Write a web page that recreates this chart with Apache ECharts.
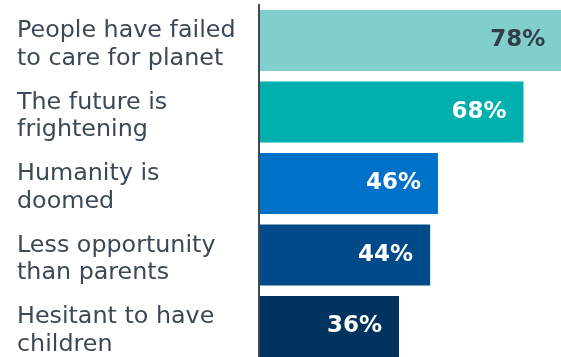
<!DOCTYPE html>
<html>
<head>
<meta charset="utf-8">
<script src="https://cdn.jsdelivr.net/npm/echarts@6/dist/echarts.min.js"></script>
<style>
  html, body { margin: 0; padding: 0; background: #ffffff; }
  #chart { width: 561px; height: 357px; }
</style>
</head>
<body>
<div id="chart"></div>
<script>
// Survey statements, top to bottom
const categories = [
  'People have failed\nto care for planet',
  'The future is\nfrightening',
  'Humanity is\ndoomed',
  'Less opportunity\nthan parents',
  'Hesitant to have\nchildren'
];
// Share agreeing, in percent
const values = [78, 68, 46, 44, 36];
// Bar fill per statement
const barColors = ['#81cfcd', '#00b0ae', '#0071c9', '#004a89', '#00345f'];
// Value label colour per bar
const labelColors = ['#333d47', '#ffffff', '#ffffff', '#ffffff', '#ffffff'];

const chart = echarts.init(document.getElementById('chart'), null, { renderer: 'canvas' });

chart.setOption({
  animation: false,
  grid: {
    left: 259, width: 303.4, top: 4.75, height: 357.5,
    containLabel: false,
    outerBoundsMode: 'none'
  },
  xAxis: {
    type: 'value',
    min: 0,
    max: 78,
    show: false
  },
  yAxis: {
    type: 'category',
    data: categories,
    inverse: true,
    z: 5,
    axisLine: { show: true, lineStyle: { color: '#3d4956', width: 2 } },
    axisTick: { show: false },
    axisLabel: {
      align: 'left',
      verticalAlign: 'top',
      margin: 242,
      color: '#3b4856',
      fontFamily: 'DejaVu Sans',
      fontSize: 23.8,
      lineHeight: 27.5,
      // two-line block sits a little below the bar centre
      padding: [-23, 0, 0, 0]
    }
  },
  series: [{
    type: 'bar',
    barWidth: 61,
    data: values.map((v, i) => ({
      value: v,
      itemStyle: { color: barColors[i] },
      label: { color: labelColors[i] }
    })),
    label: {
      show: true,
      position: 'insideRight',
      distance: 17,
      formatter: '{c}%',
      fontFamily: 'DejaVu Sans',
      fontWeight: 'bold',
      fontSize: 23
    }
  }]
});
</script>
</body>
</html>
